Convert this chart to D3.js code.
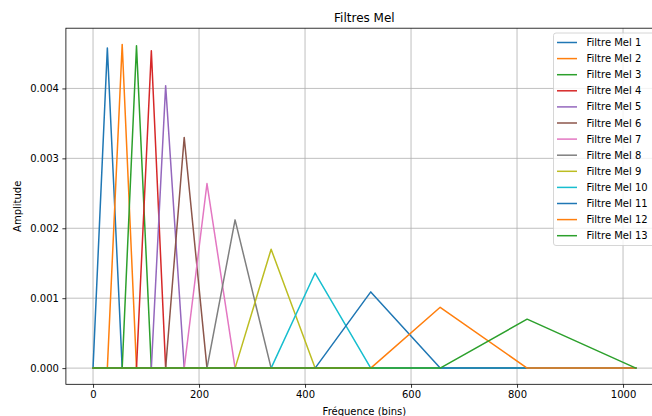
<!DOCTYPE html>
<meta charset="utf-8">
<html>
<script src="https://d3js.org/d3.v7.min.js"></script>
<style>
  body { margin: 0; background: white; }
  text { font-family: "DejaVu Sans", sans-serif; }
</style>
<body>
<div id="chart"></div>
<script>

// frequency bin edges of the mel triangles (filter i goes edges[i] -> edges[i+1] -> edges[i+2])
const binEdges = [0, 27, 55, 82, 110, 137, 172, 215, 268, 336, 419, 524, 655, 819, 1024];
// peak amplitude of each filter
const peakValues = [0.00458, 0.00463, 0.00461, 0.00454, 0.00404, 0.0033, 0.00264,
                    0.00212, 0.0017, 0.00136, 0.00109, 0.00087, 0.0007];
const filterNames = peakValues.map((d, i) => "Filtre Mel " + (i + 1));
const xTicks = [0, 200, 400, 600, 800, 1000];
const yTicks = [0, 0.001, 0.002, 0.003, 0.004];
const nBins = 1024;

const colors = ["#1f77b4", "#ff7f0e", "#2ca02c", "#d62728", "#9467bd", "#8c564b",
                "#e377c2", "#7f7f7f", "#bcbd22", "#17becf"];

const W = 652, H = 416;
const ax = {left: 65.9, right: 662.9, top: 28.2, bottom: 384.3};

const svg = d3.select("#chart").append("svg")
    .attr("width", W).attr("height", H);

// matplotlib style 5% margins
const xPad = nBins * 0.05;
const yMax = d3.max(peakValues), yPad = yMax * 0.05;
const x = d3.scaleLinear().domain([-xPad, nBins + xPad]).range([ax.left, ax.right]);
const y = d3.scaleLinear().domain([-yPad, yMax + yPad]).range([ax.bottom, ax.top]);

// grid
svg.append("g").selectAll("line").data(xTicks).join("line")
    .attr("x1", d => x(d)).attr("x2", d => x(d))
    .attr("y1", ax.top).attr("y2", ax.bottom)
    .attr("stroke", "#b0b0b0").attr("stroke-width", 0.8);
svg.append("g").selectAll("line").data(yTicks).join("line")
    .attr("x1", ax.left).attr("x2", ax.right)
    .attr("y1", d => y(d)).attr("y2", d => y(d))
    .attr("stroke", "#b0b0b0").attr("stroke-width", 0.8);

svg.append("clipPath").attr("id", "clip").append("rect")
    .attr("x", ax.left).attr("y", ax.top)
    .attr("width", ax.right - ax.left).attr("height", ax.bottom - ax.top);

// filters
const filters = peakValues.map((p, i) => [
  [0, 0], [binEdges[i], 0], [binEdges[i + 1], p], [binEdges[i + 2], 0], [nBins, 0]
]);

const line = d3.line().x(d => x(d[0])).y(d => y(d[1]));
svg.append("g").attr("clip-path", "url(#clip)")
  .selectAll("path").data(filters).join("path")
    .attr("d", line)
    .attr("fill", "none")
    .attr("stroke", (d, i) => colors[i % 10])
    .attr("stroke-width", 1.5)
    .attr("stroke-linejoin", "round")
    .attr("stroke-linecap", "square");

// axes
const xAxis = svg.append("g")
    .attr("transform", `translate(0,${ax.bottom})`)
    .call(d3.axisBottom(x).tickValues(xTicks).tickSize(3.5).tickPadding(3.5).tickFormat(d3.format("d")));
const yAxis = svg.append("g")
    .attr("transform", `translate(${ax.left},0)`)
    .call(d3.axisLeft(y).tickValues(yTicks).tickSize(3.5).tickPadding(3.5).tickFormat(d3.format(".3f")));
[xAxis, yAxis].forEach(g => {
  g.select(".domain").remove();
  g.selectAll(".tick line").attr("stroke", "#000").attr("stroke-width", 0.8);
  g.selectAll("text").attr("font-size", 10).attr("fill", "#000")
    .style("font-family", "DejaVu Sans");
});

// spines
svg.append("rect")
    .attr("x", ax.left).attr("y", ax.top)
    .attr("width", ax.right - ax.left).attr("height", ax.bottom - ax.top)
    .attr("fill", "none").attr("stroke", "#000").attr("stroke-width", 0.8);

// title + labels
svg.append("text").attr("x", (ax.left + ax.right) / 2).attr("y", 22)
    .attr("text-anchor", "middle").attr("font-size", 12).text("Filtres Mel");
svg.append("text").attr("x", (ax.left + ax.right) / 2).attr("y", 415)
    .attr("text-anchor", "middle").attr("font-size", 10).text("Fréquence (bins)");
svg.append("text")
    .attr("transform", `translate(21,${(ax.top + ax.bottom) / 2}) rotate(-90)`)
    .attr("text-anchor", "middle").attr("font-size", 10).text("Amplitude");

// legend
const lg = svg.append("g");
const lgTop = 33, rowH = 16.1;
lg.append("rect")
    .attr("x", 553.5).attr("y", lgTop)
    .attr("width", ax.right - 5 - 553.5).attr("height", 212.5)
    .attr("rx", 2.5)
    .attr("fill", "white").attr("fill-opacity", 0.8)
    .attr("stroke", "#cccccc").attr("stroke-width", 0.8);
const rows = lg.selectAll("g.row").data(filterNames).join("g")
    .attr("transform", (d, i) => `translate(0,${lgTop + 9.5 + i * rowH})`);
rows.append("line")
    .attr("x1", 557).attr("x2", 577)
    .attr("stroke", (d, i) => colors[i % 10]).attr("stroke-width", 1.5);
rows.append("text")
    .attr("x", 586.5).attr("dy", "0.35em")
    .attr("font-size", 10).text(d => d);

</script>
</body>
</html>
